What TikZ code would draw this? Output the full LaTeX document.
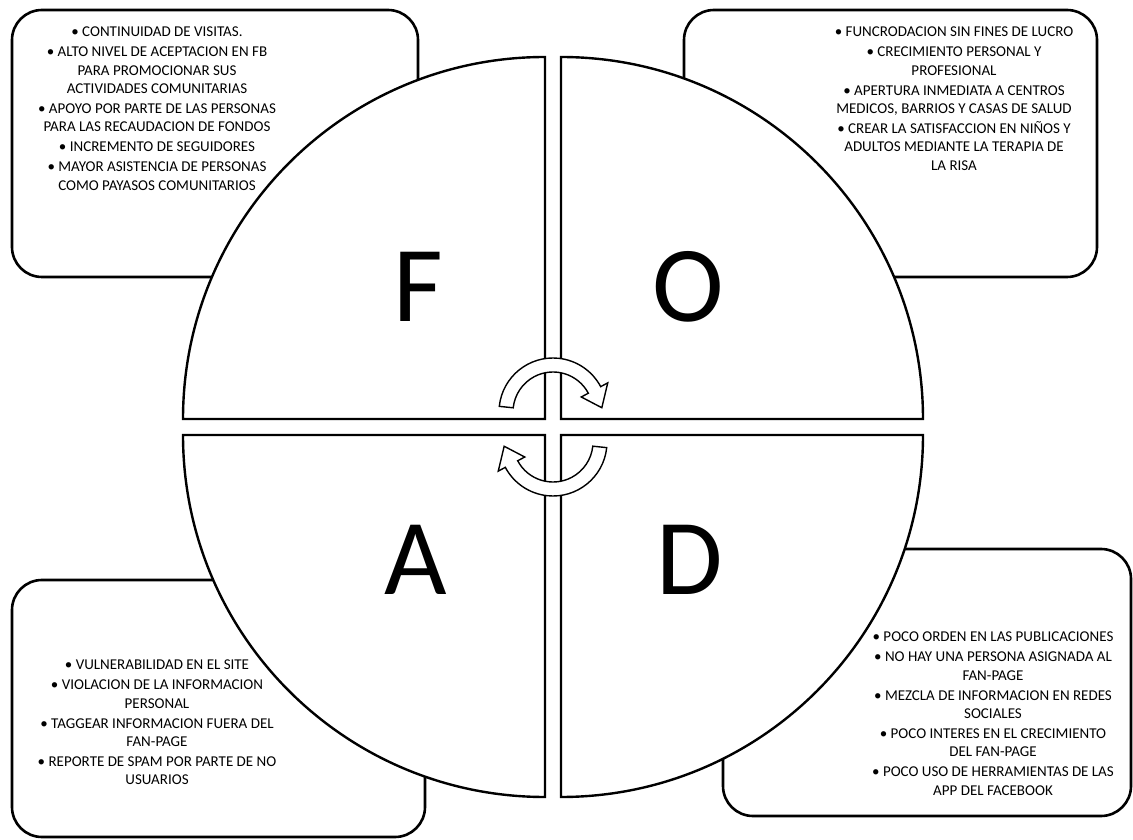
\documentclass[tikz,border=0pt]{standalone}
\usepackage{fontspec}
\setmainfont{Carlito}
\begin{document}
\begin{tikzpicture}[x=1pt,y=1pt]
\tikzset{
 box/.style={draw, line width=2.6pt, rounded corners=30pt},
 piece/.style={draw, fill=white, line width=2.4pt, line join=miter},
 txt/.style={align=center, inner sep=0pt, anchor=north, font=\fontsize{15}{18.3}\selectfont},
 big/.style={font=\fontsize{108}{110}\selectfont, inner sep=0pt, anchor=base},
 cyc/.style={draw, fill=white, line width=1.4pt, line join=miter}
}
\useasboundingbox (0,0) rectangle (1133,839);
% corner boxes
\draw[box] (12,829) rectangle (418,562);
\draw[box] (684,829) rectangle (1097,562);
\draw[box] (12,259) rectangle (425,2);
\draw[box] (723,290) rectangle (1131,23);
% quarter pieces
\draw[piece] (545,420) -- ++(-362,0) arc[start angle=180, end angle=90, radius=362] -- cycle;
\draw[piece] (561,420) -- ++(0,362) arc[start angle=90, end angle=0, radius=362] -- cycle;
\draw[piece] (545,404) -- ++(-362,0) arc[start angle=180, end angle=270, radius=362] -- cycle;
\draw[piece] (561,404) -- ++(362,0) arc[start angle=0, end angle=-90, radius=362] -- cycle;
% big letters
\node[big] (F) at (418,517) {F};
\node[big] (O) at (688,517) {O};
\node[big] (A) at (416,244) {A};
\node[big] (D) at (690,244) {D};
% cycle arrows
\begin{scope}[shift={(553,427)}]
\draw[cyc] (174:54) arc[start angle=174, end angle=28, radius=54] -- (28:62) -- (5:49) -- (28:32) -- (28:40) arc[start angle=28, end angle=174, radius=40] -- cycle;
\end{scope}
\begin{scope}[shift={(553,397)}, rotate=180]
\draw[cyc] (174:54) arc[start angle=174, end angle=28, radius=54] -- (28:62) -- (5:49) -- (28:32) -- (28:40) arc[start angle=28, end angle=174, radius=40] -- cycle;
\end{scope}
% texts
\node[txt] (tF) at (157,812) {• CONTINUIDAD DE VISITAS.\\[1.7pt]
• ALTO NIVEL DE ACEPTACION EN FB\\ PARA PROMOCIONAR SUS\\ ACTIVIDADES COMUNITARIAS\\[1.7pt]
• APOYO POR PARTE DE LAS PERSONAS\\ PARA LAS RECAUDACION DE FONDOS\\[1.7pt]
• INCREMENTO DE SEGUIDORES\\[1.7pt]
• MAYOR ASISTENCIA DE PERSONAS\\ COMO PAYASOS COMUNITARIOS};
\node[txt] (tO) at (954,812) {• FUNCRODACION SIN FINES DE LUCRO\\[1.7pt]
• CRECIMIENTO PERSONAL Y\\ PROFESIONAL\\[1.7pt]
• APERTURA INMEDIATA A CENTROS\\ MEDICOS, BARRIOS Y CASAS DE SALUD\\[1.7pt]
• CREAR LA SATISFACCION EN NIÑOS Y\\ ADULTOS MEDIANTE LA TERAPIA DE\\ LA RISA};
\node[txt] (tA) at (157,179) {• VULNERABILIDAD EN EL SITE\\[1.7pt]
• VIOLACION DE LA INFORMACION\\ PERSONAL\\[1.7pt]
• TAGGEAR INFORMACION FUERA DEL\\ FAN-PAGE\\[1.7pt]
• REPORTE DE SPAM POR PARTE DE NO\\ USUARIOS};
\node[txt] (tD) at (993,207) {• POCO ORDEN EN LAS PUBLICACIONES\\[1.7pt]
• NO HAY UNA PERSONA ASIGNADA AL\\ FAN-PAGE\\[1.7pt]
• MEZCLA DE INFORMACION EN REDES\\ SOCIALES\\[1.7pt]
• POCO INTERES EN EL CRECIMIENTO\\ DEL FAN-PAGE\\[1.7pt]
• POCO USO DE HERRAMIENTAS DE LAS\\ APP DEL FACEBOOK};
\end{tikzpicture}
\end{document}
